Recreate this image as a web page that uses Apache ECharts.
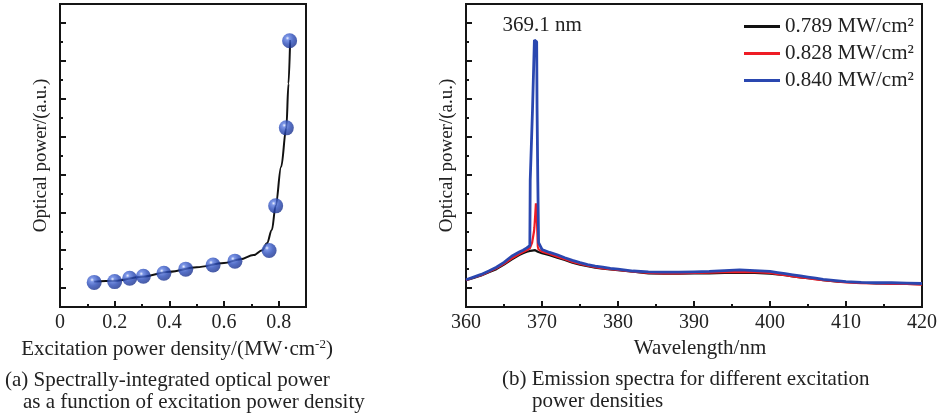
<!DOCTYPE html>
<html>
<head>
<meta charset="utf-8">
<script src="https://cdn.jsdelivr.net/npm/echarts@6.0.0/dist/echarts.min.js"></script>
<style>
  html, body { margin: 0; padding: 0; background: #ffffff; }
  #chart { width: 944px; height: 420px; }
</style>
</head>
<body>
<div id="chart"></div>
<script>
// (a) integrated optical power vs excitation power density (MW/cm^2)
const densityX = [0.125, 0.2, 0.255, 0.305, 0.38, 0.46, 0.56, 0.64, 0.765, 0.789, 0.828, 0.840];
const integratedPower = [0.65, 0.67, 0.76, 0.81, 0.89, 1.0, 1.11, 1.21, 1.49, 2.67, 4.73, 7.03];

// fitted trend through the measurements
const fitX = [0.125, 0.2, 0.3, 0.4, 0.5, 0.6, 0.66, 0.708, 0.74, 0.757, 0.775, 0.789, 0.809, 0.828, 0.836, 0.842];
const fitY = [0.67, 0.69, 0.80, 0.93, 1.05, 1.16, 1.26, 1.37, 1.50, 1.68, 2.03, 2.67, 3.70, 4.73, 5.90, 7.05];

// (b) emission spectra
const wavelength = [360, 361, 362, 363, 364, 365, 366, 367, 367.5, 368, 368.4, 368.45, 368.7, 368.75, 368.95, 369.0,
  369.1, 369.2, 369.3, 369.35, 369.45, 369.55, 370, 371, 372, 373, 374, 375, 376, 377, 378, 379, 380, 382, 384,
  386, 388, 390, 392, 394, 396, 398, 400, 401, 402, 403, 404, 405, 406, 407, 408, 409, 410, 412, 414, 416, 418, 420];
const spec0789 = [0.71, 0.77, 0.83, 0.92, 1.00, 1.12, 1.25, 1.37, 1.42, 1.46, 1.48, 1.48, 1.49, 1.49, 1.50, 1.50,
  1.50, 1.49, 1.48, 1.47, 1.46, 1.44, 1.42, 1.37, 1.30, 1.24, 1.17, 1.12, 1.08, 1.04, 1.01, 0.99, 0.97, 0.93, 0.89,
  0.88, 0.88, 0.89, 0.89, 0.90, 0.91, 0.90, 0.88, 0.86, 0.84, 0.81, 0.78, 0.76, 0.74, 0.71, 0.69, 0.67, 0.66, 0.64,
  0.62, 0.62, 0.61, 0.60];
const spec0828 = [0.71, 0.78, 0.84, 0.93, 1.02, 1.14, 1.28, 1.40, 1.45, 1.50, 1.55, 1.56, 1.70, 1.75, 2.00, 2.10,
  2.40, 2.74, 2.70, 2.20, 1.60, 1.52, 1.46, 1.40, 1.33, 1.26, 1.19, 1.14, 1.09, 1.05, 1.02, 1.00, 0.98, 0.93, 0.90,
  0.89, 0.89, 0.90, 0.91, 0.92, 0.93, 0.92, 0.90, 0.87, 0.84, 0.81, 0.78, 0.76, 0.73, 0.71, 0.69, 0.67, 0.65, 0.63,
  0.62, 0.61, 0.61, 0.59];
const spec0840 = [0.72, 0.79, 0.86, 0.95, 1.05, 1.18, 1.34, 1.45, 1.50, 1.56, 1.62, 3.35, 3.35, 5.20, 5.20, 7.05,
  7.05, 7.05, 7.00, 5.25, 3.30, 1.70, 1.52, 1.44, 1.38, 1.30, 1.23, 1.17, 1.12, 1.08, 1.05, 1.02, 1.00, 0.95, 0.93,
  0.92, 0.92, 0.93, 0.94, 0.96, 0.98, 0.96, 0.94, 0.91, 0.88, 0.85, 0.82, 0.79, 0.76, 0.73, 0.71, 0.69, 0.67, 0.65,
  0.64, 0.64, 0.63, 0.62];
const seriesNames = ['0.789 MW/cm²', '0.828 MW/cm²', '0.840 MW/cm²'];
const peakNm = 369.1;
const peakValue = 7.05;

const densityTicks = ['0', '0.2', '0.4', '0.6', '0.8'];
const wavelengthTicks = ['360', '370', '380', '390', '400', '410', '420'];

const SERIF = '"Liberation Serif", "Times New Roman", serif';
const INK = '#222222';
const FRAME = '#151515';
const TEXT_SIZE = 21;
const TICK_SIZE = 20;

const zip = (xs, ys) => xs.map((x, i) => [x, ys[i]]);

const yAxisBase = (gridIndex) => ({
  gridIndex,
  type: 'value',
  min: 0, max: 8, interval: 1,
  axisLine: { show: false },
  axisLabel: { show: false },
  splitLine: { show: false },
  axisTick: { show: true, inside: true, length: 3, lineStyle: { color: FRAME, width: 2 } },
  minorTick: { show: true, splitNumber: 2, length: 6, lineStyle: { color: FRAME, width: 2 } },
  name: 'Optical power/(a.u.)',
  nameLocation: 'middle',
  nameGap: 9,
  nameTextStyle: { fontFamily: SERIF, fontSize: 19, color: INK }
});

const supRich = {
  t: { fontFamily: SERIF, fontSize: TEXT_SIZE, color: INK, lineHeight: 24 },
  s: { fontFamily: SERIF, fontSize: 13, color: INK, lineHeight: 13, verticalAlign: 'top' }
};

const sphere = {
  type: 'radial', x: 0.36, y: 0.33, r: 0.72,
  colorStops: [
    { offset: 0, color: '#e8eeff' },
    { offset: 0.18, color: '#5b7be0' },
    { offset: 0.55, color: '#2a4bb8' },
    { offset: 1, color: '#182f8a' }
  ]
};

const option = {
  animation: false,
  backgroundColor: '#ffffff',
  grid: [
    { left: 60, top: 4, width: 246, height: 303, show: true, borderColor: FRAME, borderWidth: 2, containLabel: false },
    { left: 466, top: 4, width: 456, height: 303, show: true, borderColor: FRAME, borderWidth: 2, containLabel: false }
  ],
  xAxis: [
    {
      gridIndex: 0, type: 'value', min: 0, max: 0.9, interval: 0.1,
      axisLine: { show: false }, splitLine: { show: false },
      axisLabel: { show: false },
      axisTick: { show: true, inside: true, length: 3, lineStyle: { color: FRAME, width: 2 } }
    },
    {
      gridIndex: 0, type: 'value', min: 0, max: 0.9, interval: 0.2, position: 'bottom',
      axisLine: { show: false }, splitLine: { show: false },
      axisTick: { show: true, inside: true, length: 6, lineStyle: { color: FRAME, width: 2 } },
      axisLabel: {
        show: true, margin: 6, showMaxLabel: false,
        fontFamily: SERIF, fontSize: TICK_SIZE, color: INK,
        formatter: (v) => densityTicks[Math.round(v / 0.2)] ?? ''
      },
      name: '{t|Excitation power density/(MW·cm}{s|-2}{t|)}',
      nameLocation: 'middle', nameGap: 27,
      nameTextStyle: { rich: supRich, padding: [0, 12, 0, 0] }
    },
    {
      gridIndex: 1, type: 'value', min: 360, max: 420, interval: 10,
      axisLine: { show: false }, splitLine: { show: false },
      axisTick: { show: true, inside: true, length: 6, lineStyle: { color: FRAME, width: 2 } },
      minorTick: { show: true, splitNumber: 2, length: 3, lineStyle: { color: FRAME, width: 2 } },
      axisLabel: {
        show: true, margin: 6, fontFamily: SERIF, fontSize: TICK_SIZE, color: INK,
        formatter: (v) => wavelengthTicks[Math.round((v - 360) / 10)] ?? ''
      },
      name: 'Wavelength/nm',
      nameLocation: 'middle', nameGap: 27,
      nameTextStyle: { fontFamily: SERIF, fontSize: TEXT_SIZE, color: INK, padding: [0, 0, 0, 12] }
    }
  ],
  yAxis: [yAxisBase(0), yAxisBase(1)],
  legend: {
    show: true,
    data: seriesNames,
    orient: 'vertical',
    left: 739, top: 11,
    icon: 'rect',
    itemWidth: 36, itemHeight: 3,
    itemGap: 6,
    textStyle: { fontFamily: SERIF, fontSize: TEXT_SIZE, color: INK, lineHeight: 21 }
  },
  series: [
    {
      name: 'fit', type: 'line', xAxisIndex: 0, yAxisIndex: 0,
      data: zip(fitX, fitY),
      smooth: 0.35, smoothMonotone: 'x',
      showSymbol: false, symbol: 'none',
      lineStyle: { color: '#111111', width: 2 },
      z: 2
    },
    {
      name: 'measured', type: 'scatter', xAxisIndex: 0, yAxisIndex: 0,
      data: zip(densityX, integratedPower),
      symbol: 'circle', symbolSize: 15,
      itemStyle: { color: sphere },
      z: 3
    },
    {
      name: seriesNames[0], type: 'line', xAxisIndex: 2, yAxisIndex: 1,
      data: zip(wavelength, spec0789),
      showSymbol: false, symbol: 'none',
      itemStyle: { color: '#111111' },
      lineStyle: { color: '#111111', width: 2.2 },
      z: 2
    },
    {
      name: seriesNames[1], type: 'line', xAxisIndex: 2, yAxisIndex: 1,
      data: zip(wavelength, spec0828),
      showSymbol: false, symbol: 'none',
      itemStyle: { color: '#ee1c25' },
      lineStyle: { color: '#ee1c25', width: 2.2 },
      z: 3
    },
    {
      name: seriesNames[2], type: 'line', xAxisIndex: 2, yAxisIndex: 1,
      data: zip(wavelength, spec0840),
      showSymbol: false, symbol: 'none',
      itemStyle: { color: '#2a47b0' },
      lineStyle: { color: '#2a47b0', width: 2.8 },
      z: 4,
      markPoint: {
        symbol: 'circle', symbolSize: 0,
        data: [{ coord: [peakNm, peakValue] }],
        label: {
          show: true, position: 'top', distance: 4, offset: [7, 0],
          formatter: peakNm + ' nm',
          fontFamily: SERIF, fontSize: TEXT_SIZE, color: INK
        }
      }
    }
  ],
  graphic: [
    { type: 'text', left: 5, top: 370, style: { text: '(a) Spectrally-integrated optical power', fontFamily: SERIF, fontSize: TEXT_SIZE, fill: INK } },
    { type: 'text', left: 23, top: 392, style: { text: 'as a function of excitation power density', fontFamily: SERIF, fontSize: TEXT_SIZE, fill: INK } },
    { type: 'text', left: 502, top: 369, style: { text: '(b) Emission spectra for different excitation', fontFamily: SERIF, fontSize: TEXT_SIZE, fill: INK } },
    { type: 'text', left: 532, top: 391, style: { text: 'power densities', fontFamily: SERIF, fontSize: TEXT_SIZE, fill: INK } }
  ]
};

const chart = echarts.init(document.getElementById('chart'), null, { renderer: 'canvas' });
chart.setOption(option);
</script>
</body>
</html>
